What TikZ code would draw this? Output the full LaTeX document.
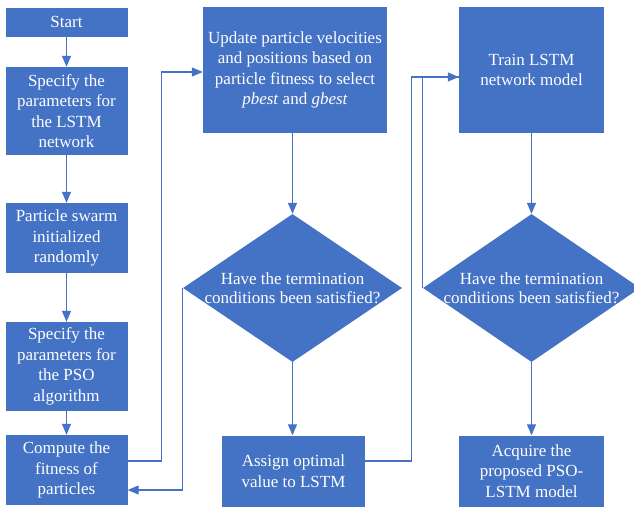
\documentclass[tikz,border=0pt]{standalone}
\usepackage{fontspec}
\setmainfont{Liberation Serif}
\usepackage{tikz}
\usetikzlibrary{arrows.meta, shapes.geometric}

\definecolor{boxblue}{HTML}{4472C4}
\tikzset{
  stepbox/.style={draw=none, fill=boxblue, text=white, align=center, inner sep=0pt,
    font=\fontsize{17}{20.5}\selectfont},
  decision/.style={shape=diamond, draw=none, fill=boxblue, inner sep=0pt,
    minimum width=219pt, minimum height=148pt},
  dectext/.style={text=white, align=center, font=\fontsize{17}{19}\selectfont},
  link/.style={draw=boxblue, line width=1.2pt}
}

\begin{document}
\begin{tikzpicture}[x=1pt, y=-1pt, >={Triangle[length=11pt,width=9pt]}]
  \useasboundingbox (0,0) rectangle (634,512);
  % left column
  \node [stepbox, minimum width=122pt, minimum height=29pt] (start) at (66.5,22) {Start};
  \node [stepbox, minimum width=122pt, minimum height=88pt] (lstmpar) at (66.5,111)
    {Specify the\\parameters for\\the LSTM\\network};
  \node [stepbox, minimum width=122pt, minimum height=70pt] (swarm) at (66.5,238)
    {Particle swarm\\initialized\\randomly};
  \node [stepbox, minimum width=122pt, minimum height=89pt] (psopar) at (66.5,366.5)
    {Specify the\\parameters for\\the PSO\\algorithm};
  \node [stepbox, minimum width=122pt, minimum height=70pt] (fitness) at (66.5,470)
    {Compute the\\fitness of\\particles};
  % middle column
  \node [stepbox, minimum width=184pt, minimum height=126pt] (update) at (295,70)
    {Update particle velocities\\and positions based on\\particle fitness to select\\\textit{pbest} and \textit{gbest}};
  \node [decision, label={[dectext]center:Have the termination\\conditions been satisfied?}] (dec1) at (292.5,288) {};
  \node [stepbox, minimum width=143pt, minimum height=71pt] (assign) at (293.5,471)
    {Assign optimal\\value to LSTM};
  % right column
  \node [stepbox, minimum width=145pt, minimum height=126pt] (train) at (531.5,70)
    {Train LSTM\\network model};
  \node [decision, minimum width=217pt, label={[dectext]center:Have the termination\\conditions been satisfied?}] (dec2) at (531.5,288) {};
  \node [stepbox, minimum width=145pt, minimum height=71pt] (acquire) at (531.5,471)
    {Acquire the\\proposed PSO-\\LSTM model};

  % connectors
  \draw [link, ->] (start) -- (lstmpar);
  \draw [link, ->] (lstmpar) -- (swarm);
  \draw [link, ->] (swarm) -- (psopar);
  \draw [link, ->] (psopar) -- (fitness);
  \draw [link, ->] ([yshift=9pt]fitness.east) -- ++(34,0) |- ([yshift=-2pt]update.west);
  \draw [link, ->] (update.south -| dec1.north) -- (dec1.north);
  \draw [link, ->] (dec1.west) |- ([yshift=-20pt]fitness.east);
  \draw [link, ->] (dec1.south) -- (dec1.south |- assign.north);
  \draw [link, ->] ([yshift=10pt]assign.east) -- ++(46,0) |- ([yshift=-7pt]train.west);
  \draw [link] (dec2.west) |- ([yshift=-7pt]train.west);
  \draw [link, ->] (train) -- (dec2);
  \draw [link, ->] (dec2) -- (acquire);
\end{tikzpicture}
\end{document}
